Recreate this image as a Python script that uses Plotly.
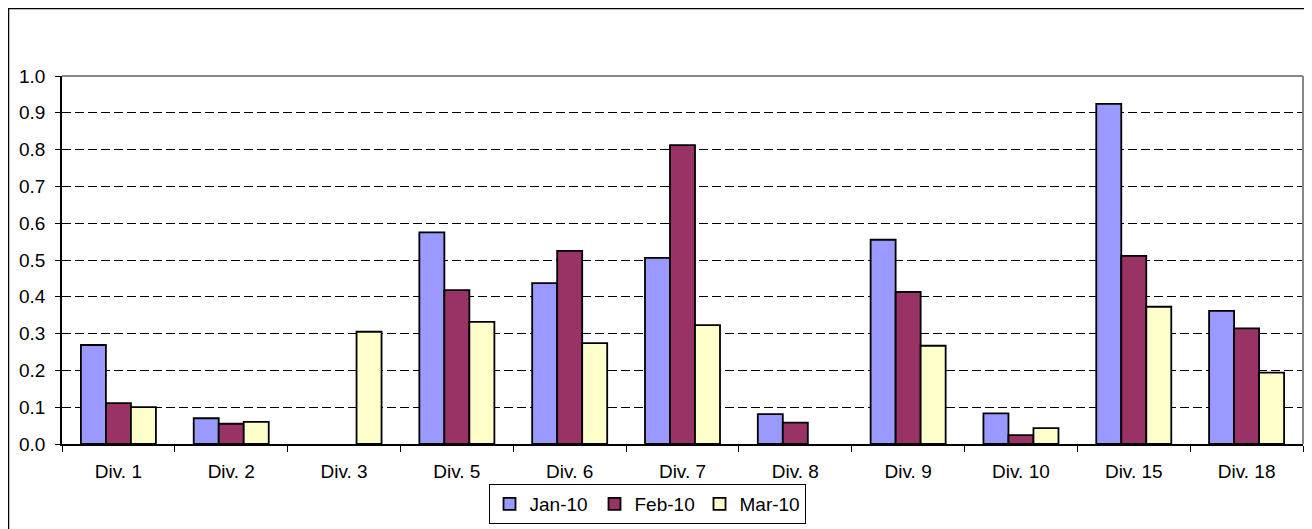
import plotly.graph_objects as go

categories = ["Div. 1", "Div. 2", "Div. 3", "Div. 5", "Div. 6", "Div. 7", "Div. 8", "Div. 9", "Div. 10", "Div. 15", "Div. 18"]
jan10 = [0.269, 0.070, None, 0.575, 0.437, 0.506, 0.081, 0.555, 0.083, 0.924, 0.362]
feb10 = [0.111, 0.055, None, 0.418, 0.525, 0.812, 0.058, 0.413, 0.024, 0.511, 0.314]
mar10 = [0.100, 0.060, 0.305, 0.332, 0.274, 0.323, None, 0.267, 0.043, 0.373, 0.194]
series_names = ["Jan-10", "Feb-10", "Mar-10"]
colors = ["#9999FF", "#993366", "#FFFFCC"]
y_ticks = [0.0, 0.1, 0.2, 0.3, 0.4, 0.5, 0.6, 0.7, 0.8, 0.9, 1.0]

fig = go.Figure()
for name, vals, col in zip(series_names, [jan10, feb10, mar10], colors):
    fig.add_trace(go.Bar(
        x=categories, y=vals, name=name,
        marker=dict(color=col, line=dict(color="black", width=1.8)),
    ))

# page body has an 8px margin, so the figure is 8px smaller and offset
fig.update_layout(
    width=1304, height=521,
    margin=dict(l=54, r=9, t=68, b=85, autoexpand=False),
    paper_bgcolor="white", plot_bgcolor="white",
    barmode="group", bargap=0.335, bargroupgap=0,
    font=dict(family="Liberation Sans, Arial, sans-serif", size=19, color="black"),
    showlegend=True,
    legend=dict(
        orientation="h", x=0.4714, xanchor="center", y=-0.1087, yanchor="top",
        bordercolor="black", borderwidth=1, bgcolor="white",
        font=dict(size=19), itemwidth=30, entrywidth=60, tracegroupgap=0,
    ),
    xaxis=dict(
        showline=True, linecolor="black", linewidth=1.5, automargin=False,
        ticks="outside", tickson="boundaries", ticklen=6, tickcolor="black",
        tickfont=dict(size=19), ticklabelstandoff=9, showgrid=False,
    ),
    yaxis=dict(
        range=[0, 1.0], tickvals=y_ticks, ticktext=[f"{v:.1f}" for v in y_ticks],
        showline=True, linecolor="black", linewidth=1.5, automargin=False,
        ticks="outside", ticklen=5, tickcolor="black",
        tickfont=dict(size=19), ticklabelstandoff=6,
        showgrid=True, gridcolor="black", gridwidth=1, griddash="9px,4px",
        zeroline=False,
    ),
    shapes=[
        dict(type="line", xref="paper", yref="paper", x0=0, x1=1, y0=1, y1=1,
             line=dict(color="#888888", width=2)),
        dict(type="line", xref="paper", yref="paper", x0=1, x1=1, y0=0, y1=1,
             line=dict(color="#888888", width=2)),
        dict(type="rect", xref="paper", yref="paper", x0=-0.0431, x1=1.02, y0=-0.25, y1=1.1834,
             line=dict(color="black", width=1.5), layer="below"),
    ],
)

fig.write_html("out.html")
